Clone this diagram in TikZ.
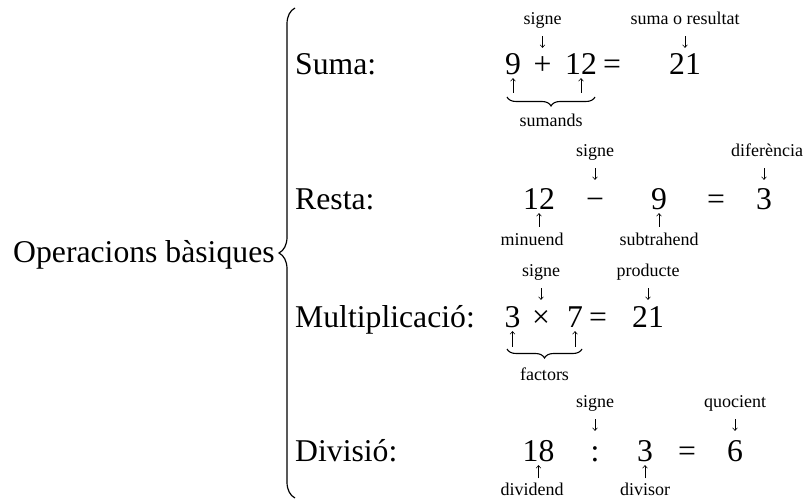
\documentclass[tikz,border=0pt]{standalone}
\usepackage{fontspec}
\setmainfont{Liberation Serif}
\usetikzlibrary{decorations.pathreplacing,arrows.meta}
\begin{document}
\begin{tikzpicture}[x=1pt,y=-1pt,
  big/.style={font=\fontsize{31.7}{36}\selectfont, inner sep=0pt, text height=21pt, text depth=0pt, anchor=base},
  lbl/.style={font=\fontsize{18}{22}\selectfont, inner sep=0pt, text height=12.5pt, text depth=4pt, anchor=base},
  arr/.style={-{Straight Barb[length=2.6pt,width=5pt]}, line width=0.55pt},
  brc/.style={decorate, decoration={brace, mirror, amplitude=9pt}, line width=1.1pt},
  bigbrc/.style={decorate, decoration={brace, amplitude=16pt}, line width=1.2pt}]
\useasboundingbox (0,0) rectangle (809,502);

% main title and brace
\node[big, anchor=base west] (title) at (13,263) {Operacions bàsiques};
\coordinate (bb) at (295,498);
\coordinate (bt) at (295,8);
\draw[bigbrc] (bb) -- (bt);

% row titles
\node[big, anchor=base west] (tsuma) at (295,75) {Suma:};
\node[big, anchor=base west] (tresta) at (295,210) {Resta:};
\node[big, anchor=base west] (tmult) at (295,328) {Multiplicació:};
\node[big, anchor=base west] (tdiv) at (295,462) {Divisió:};

% ---- Suma
\node[big] (s9) at (513,75) {9};
\node[big] (splus) at (542.5,75) {+};
\node[big] (s12) at (581,75) {12};
\node[big] (seq) at (612,75) {=};
\node[big] (s21) at (685,75) {21};
\node[lbl] (ssig) at (542.5,25) {signe};
\node[lbl] (sres) at (685,25) {suma o resultat};
\draw[arr, shorten <=7pt, shorten >=6pt] (ssig) -- (splus);
\draw[arr, shorten <=7pt, shorten >=6pt] (sres) -- (s21);
\coordinate (sa1) at (513,93);
\coordinate (sa2) at (581,93);
\draw[arr, shorten >=3pt] (sa1) -- (s9);
\draw[arr, shorten >=3pt] (sa2) -- (s12);
\coordinate (sbl) at (507,97);
\coordinate (sbr) at (595,97);
\draw[brc] (sbl) -- (sbr);
\node[lbl] (ssum) at (551,127) {sumands};

% ---- Resta
\node[big] (r12) at (539,210) {12};
\node[big] (rmin) at (595,210) {−};
\node[big] (r9) at (659,210) {9};
\node[big] (req) at (716,210) {=};
\node[big] (r3) at (764,210) {3};
\node[lbl] (rsig) at (595,157) {signe};
\node[lbl] (rdif) at (767,157) {diferència};
\draw[arr, shorten <=7pt, shorten >=9pt] (rsig) -- (rmin);
\draw[arr, shorten <=7pt, shorten >=9pt] (rdif.south -| r3) -- (r3);
\node[lbl] (rminu) at (532,246) {minuend};
\node[lbl] (rsub) at (659,246) {subtrahend};
\draw[arr, shorten <=6.5pt, shorten >=3pt] (rminu.north -| r12) -- (r12);
\draw[arr, shorten <=6.5pt, shorten >=3pt] (rsub) -- (r9);

% ---- Multiplicacio
\node[big] (m3) at (512.5,328) {3};
\node[big] (mx) at (541,328) {×};
\node[big] (m7) at (575,328) {7};
\node[big] (meq) at (598,328) {=};
\node[big] (m21) at (648,328) {21};
\node[lbl] (msig) at (541,277) {signe};
\node[lbl] (mprod) at (648,277) {producte};
\draw[arr, shorten <=7pt, shorten >=7pt] (msig) -- (mx);
\draw[arr, shorten <=7pt, shorten >=7pt] (mprod) -- (m21);
\coordinate (ma1) at (512.5,347);
\coordinate (ma2) at (575,347);
\draw[arr, shorten >=3pt] (ma1) -- (m3);
\draw[arr, shorten >=3pt] (ma2) -- (m7);
\coordinate (mbl) at (507,349);
\coordinate (mbr) at (582,349);
\draw[brc] (mbl) -- (mbr);
\node[lbl] (mfac) at (544.5,381) {factors};

% ---- Divisio
\node[big] (d18) at (538.5,462) {18};
\node[big] (dcol) at (595,462) {:};
\node[big] (d3) at (645,462) {3};
\node[big] (deq) at (687,462) {=};
\node[big] (d6) at (735,462) {6};
\node[lbl] (dsig) at (595,408) {signe};
\node[lbl] (dquo) at (735,408) {quocient};
\draw[arr, shorten <=7pt, shorten >=10pt] (dsig) -- (dcol);
\draw[arr, shorten <=7pt, shorten >=10pt] (dquo) -- (d6);
\node[lbl] (ddvd) at (532,496) {dividend};
\node[lbl] (ddvs) at (645,496) {divisor};
\draw[arr, shorten <=5pt, shorten >=3pt] (ddvd.north -| d18) -- (d18);
\draw[arr, shorten <=5pt, shorten >=3pt] (ddvs) -- (d3);
\end{tikzpicture}
\end{document}
